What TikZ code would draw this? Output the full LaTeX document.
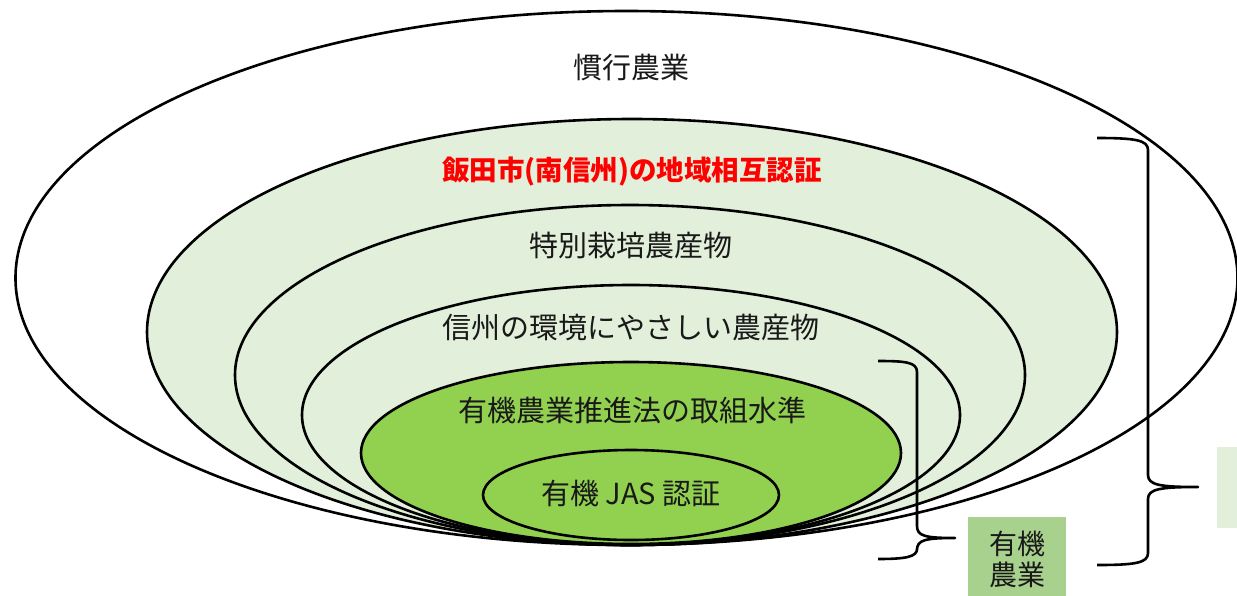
\documentclass[tikz,border=0pt]{standalone}
\usepackage{fontspec}
\newfontfamily\jp{Noto Sans CJK JP}
\definecolor{lightg}{HTML}{E2EFDA}
\definecolor{midg}{HTML}{A9D18E}
\definecolor{brightg}{HTML}{92D050}
\definecolor{redtxt}{HTML}{FF0000}
\begin{document}
\begin{tikzpicture}[x=1pt,y=-1pt,
  ring/.style={draw=black,line width=2.6pt},
  lbl/.style={font=\jp\fontsize{29}{34}\selectfont,text=black!90,inner sep=0pt},
  brace/.style={draw=black,line width=2.6pt,line join=round}]
\useasboundingbox (0,0) rectangle (1237,595);
\fill[white] (0,0) rectangle (1237,595);
% ellipses
\draw[ring,fill=white]   (626.5,278) ellipse [x radius=611, y radius=267];
\draw[ring,fill=lightg]  (632,332) ellipse [x radius=485, y radius=213];
\draw[ring,fill=lightg]  (630,375) ellipse [x radius=395, y radius=170];
\draw[ring,fill=lightg]  (631,415) ellipse [x radius=329, y radius=130];
\draw[ring,fill=brightg] (631,453) ellipse [x radius=270, y radius=91];
\draw[ring,fill=brightg] (631,495) ellipse [x radius=148, y radius=45];
% labels
\node[lbl] (kanko) at (631,68) {慣行農業};
\node[lbl,text=redtxt,font=\jp\bfseries\fontsize{27.5}{32}\selectfont] (iida) at (632,172) {飯田市(南信州)の地域相互認証};
\node[lbl] (tokubetsu) at (631,245) {特別栽培農産物};
\node[lbl] (shinshu) at (631,328) {信州の環境にやさしい農産物};
\node[lbl] (suishin) at (632,410) {有機農業推進法の取組水準};
\node[lbl] (jas) at (631,493) {有機 JAS 認証};
% boxes
\node[fill=midg,minimum width=98pt,minimum height=80pt,inner sep=0pt,anchor=north west] (yuki) at (968,517) {};
\node[lbl,align=center,font=\jp\fontsize{28}{31}\selectfont] (yukitxt) at (1017,559) {有機\\農業};
\node[fill=lightg,minimum width=30pt,minimum height=81pt,inner sep=0pt,anchor=north west] (rbox) at (1217,447) {};
% small brace
\coordinate (sbt) at (878,361);
\coordinate (sbtip) at (955,538);
\coordinate (sbb) at (878,559);
\draw[brace] (sbt) .. controls (905,361) and (917,362) .. (917,372) -- (917,526)
  .. controls (917,536) and (925,538) .. (sbtip)
  .. controls (925,538) and (917,540) .. (917,550) -- (917,549)
  .. controls (917,557) and (905,559) .. (sbb);
% big brace
\coordinate (bbt) at (1097,138);
\coordinate (bbtip) at (1198,487);
\coordinate (bbb) at (1097,565);
\draw[brace] (bbt) .. controls (1135,138) and (1148,140) .. (1148,150) -- (1148,475)
  .. controls (1148,485) and (1160,487) .. (bbtip)
  .. controls (1160,487) and (1148,489) .. (1148,499) -- (1148,553)
  .. controls (1148,563) and (1135,565) .. (bbb);
\end{tikzpicture}
\end{document}
